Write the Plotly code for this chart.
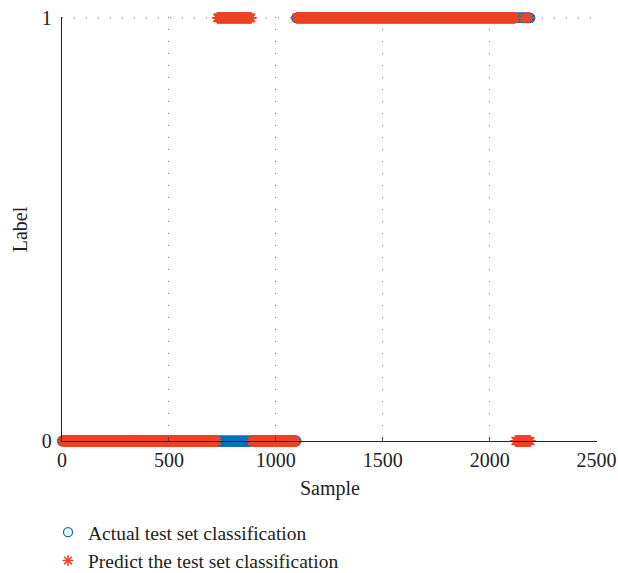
import numpy as np
import plotly.graph_objects as go

# Run-length description of the labels: (first sample, last sample, label)
actual_runs = [
    (1, 1095, 0),
    (1096, 2190, 1),
]
predicted_runs = [
    (1, 725, 0),
    (726, 885, 1),
    (886, 1095, 0),
    (1096, 2120, 1),
    (2121, 2158, 0),
    (2159, 2160, 1),
    (2161, 2171, 0),
    (2172, 2172, 1),
    (2173, 2183, 0),
    (2184, 2185, 1),
    (2186, 2190, 0),
]

x_ticks = [0, 500, 1000, 1500, 2000, 2500]
y_ticks = [0, 1]


def expand(runs):
    xs, ys = [], []
    for start, end, lab in runs:
        for s in range(start, end + 1):
            xs.append(s)
            ys.append(lab)
    return np.array(xs), np.array(ys)


xa, ya = expand(actual_runs)
xp, yp = expand(predicted_runs)

BLUE = "#0072BD"
RED = "#EE4527"
FONT = "Liberation Serif, Times New Roman, serif"
TXT = "#222222"
GRID = "#777777"
DOTS = "1px,11px"

fig = go.Figure()
fig.add_trace(go.Scatter(
    x=xa, y=ya, mode="markers", name="Actual test set classification",
    marker=dict(symbol="circle-open", size=9, color=BLUE, line=dict(width=1.3, color=BLUE)),
    cliponaxis=False,
))
fig.add_trace(go.Scatter(
    x=xp, y=yp, mode="markers", name="Predict the test set classification",
    marker=dict(symbol="asterisk-open", size=9, color=RED, line=dict(width=1.5, color=RED)),
    cliponaxis=False,
))

# dotted grid line at the top tick (plotly drops grid lines on the axis edge)
fig.add_shape(
    type="line", xref="x", yref="y", layer="below",
    x0=x_ticks[0], x1=x_ticks[-1], y0=y_ticks[-1], y1=y_ticks[-1],
    line=dict(color=GRID, width=1, dash=DOTS),
)

# axis titles
fig.add_annotation(
    text="Sample", xref="paper", yref="paper", x=0.5, y=-0.113,
    xanchor="center", yanchor="middle", showarrow=False,
    font=dict(family=FONT, size=20, color=TXT),
)
fig.add_annotation(
    text="Label", xref="paper", yref="paper", x=-0.078, y=0.5,
    xanchor="center", yanchor="middle", showarrow=False, textangle=-90,
    font=dict(family=FONT, size=20, color=TXT),
)

fig.update_layout(
    width=618, height=573,
    margin=dict(l=62, r=21, t=17, b=132, autoexpand=False),
    plot_bgcolor="white", paper_bgcolor="white",
    font=dict(family=FONT, size=20, color=TXT),
    showlegend=True,
    legend=dict(
        xref="container", yref="container",
        x=48 / 618, y=1 - 513 / 573, xanchor="left", yanchor="top",
        bgcolor="rgba(0,0,0,0)", font=dict(family=FONT, size=19.5, color=TXT),
        tracegroupgap=0, itemwidth=30,
    ),
)
fig.update_xaxes(
    range=[0, 2502], tickvals=x_ticks, ticktext=[str(v) for v in x_ticks],
    showline=True, linecolor=TXT, linewidth=1.3,
    ticks="inside", ticklen=4, tickcolor="#444", tickwidth=1,
    showgrid=True, gridcolor=GRID, gridwidth=1, griddash=DOTS,
    zeroline=False, mirror=False, automargin=False,
    tickfont=dict(family=FONT, size=20, color=TXT), ticklabelstandoff=1,
)
fig.update_yaxes(
    range=[0, 1.002], tickvals=y_ticks, ticktext=[str(v) for v in y_ticks],
    showline=True, linecolor=TXT, linewidth=1.3,
    ticks="inside", ticklen=4, tickcolor="#444", tickwidth=1,
    showgrid=True, gridcolor=GRID, gridwidth=1, griddash=DOTS,
    zeroline=False, mirror=False, automargin=False,
    tickfont=dict(family=FONT, size=20, color=TXT), ticklabelstandoff=5,
)

fig.write_html("out.html")
